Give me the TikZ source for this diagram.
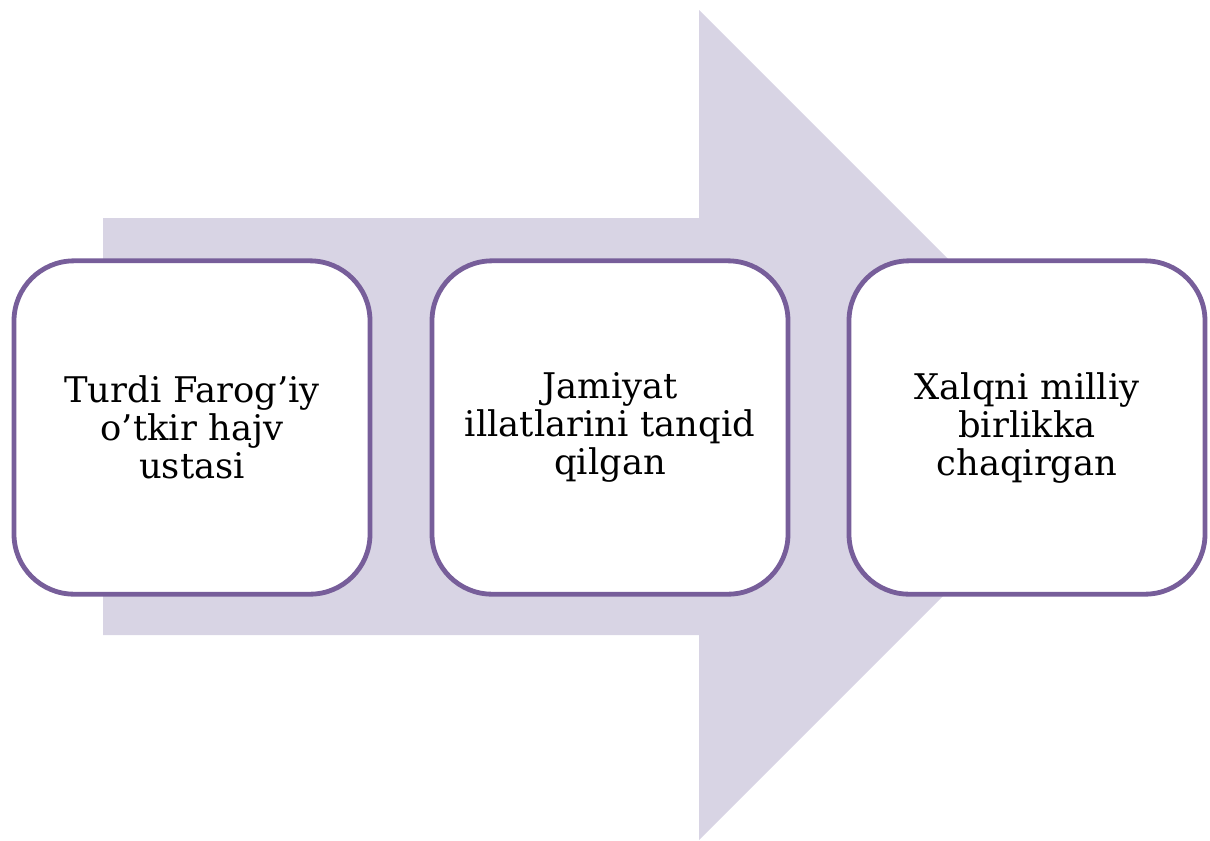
\documentclass[tikz,border=0pt]{standalone}
\usepackage{fontspec}
\setmainfont{DejaVu Serif}
\definecolor{arrowfill}{HTML}{D8D4E4}
\definecolor{boxline}{HTML}{775E9A}
\begin{document}
\begin{tikzpicture}[x=0.75pt,y=-0.75pt,
  stagebox/.style={draw=boxline, line width=3.6pt, fill=white,
    rounded corners=45pt, minimum width=267pt, minimum height=250pt,
    align=center, text width=250pt, inner sep=0pt,
    font=\fontsize{26.5}{28.5}\selectfont}]
\useasboundingbox (0,0) rectangle (1210,840);
\fill[arrowfill] (103,218) -- (699,218) -- (699,10) -- (1114,425) -- (699,840) -- (699,635) -- (103,635) -- cycle;
\node[stagebox] (b1) at (192,427.5) {Turdi Farog’iy\\o’tkir hajv\\ustasi};
\node[stagebox] (b2) at (610,427.5) {Jamiyat\\illatlarini tanqid\\qilgan};
\node[stagebox] (b3) at (1027,427.5) {Xalqni milliy\\birlikka\\chaqirgan};
\end{tikzpicture}
\end{document}
